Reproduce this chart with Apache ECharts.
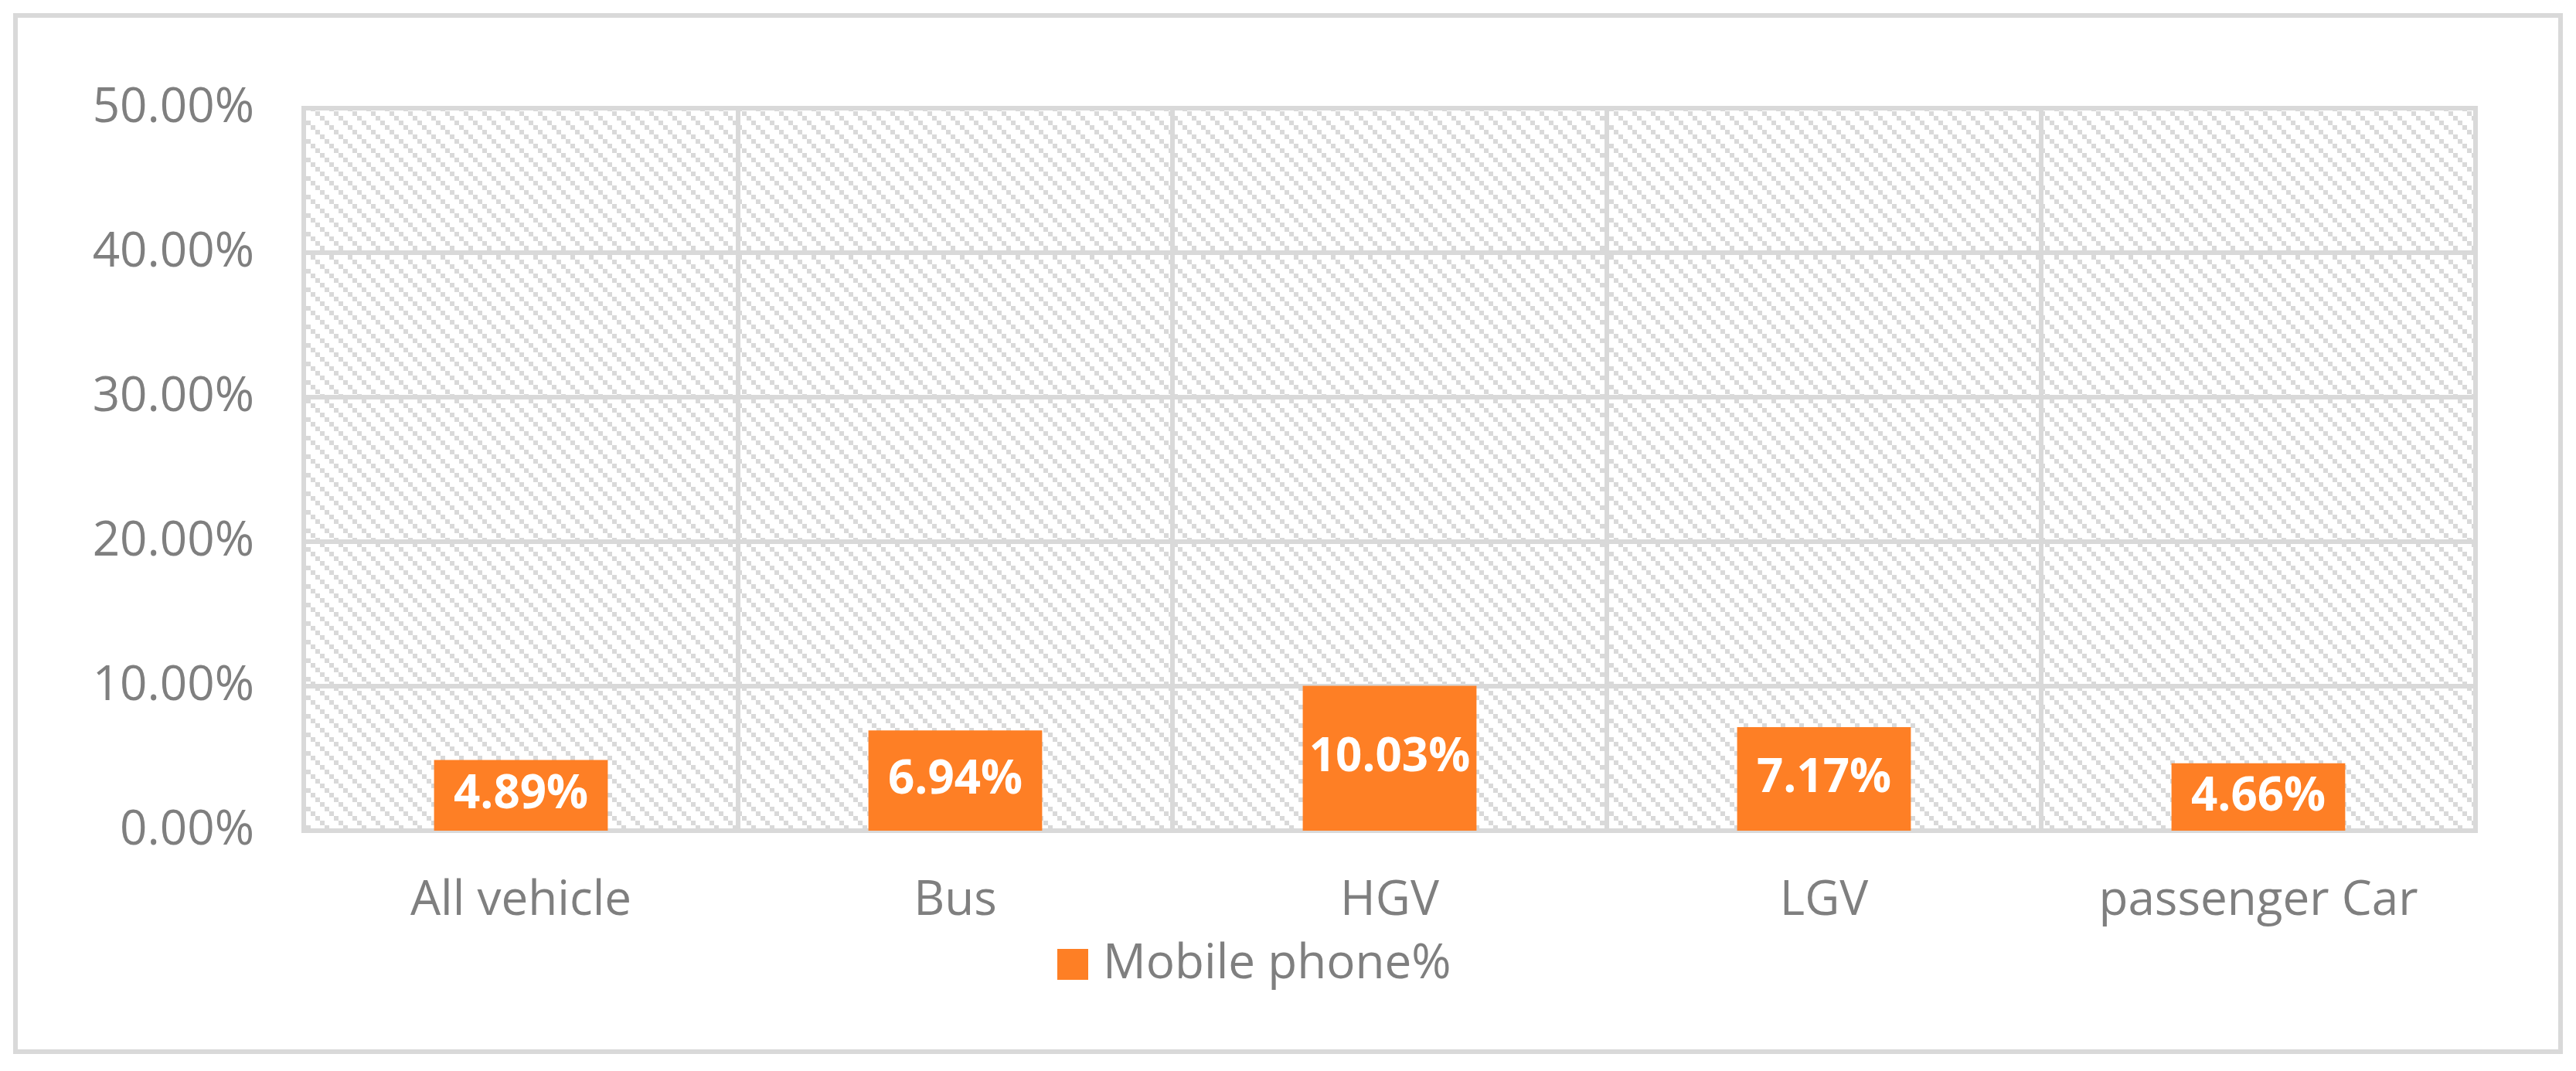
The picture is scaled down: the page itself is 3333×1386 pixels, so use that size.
<!DOCTYPE html>
<html>
<head>
<meta charset="utf-8">
<script src="https://cdn.jsdelivr.net/npm/echarts@6/dist/echarts.min.js"></script>
<style>
html,body{margin:0;padding:0;background:#fff;}
#chart{width:3333px;height:1386px;}
</style>
</head>
<body>
<div id="chart"></div>
<script>
const categories = ['All vehicle', 'Bus', 'HGV', 'LGV', 'passenger Car'];
const mobilePhonePct = [4.89, 6.94, 10.03, 7.17, 4.66];
const seriesName = 'Mobile phone%';
const yTicks = { min: 0, max: 50, interval: 10 };

const FONT = '"Open Sans", "Noto Sans", sans-serif';
const GRAY_LINE = '#d9d9d9';
const GRAY_TEXT = '#7f7f7f';
const ORANGE = '#FE7F25';

// diagonal hatch pattern tile
const tile = document.createElement('canvas');
tile.width = 24; tile.height = 24;
const tctx = tile.getContext('2d');
tctx.fillStyle = '#ffffff';
tctx.fillRect(0, 0, 24, 24);
tctx.fillStyle = GRAY_LINE;
for (let b = 0; b < 4; b++) {
  tctx.fillRect(b * 6, b * 6, 6, 6);
}

const chart = echarts.init(document.getElementById('chart'), null, { renderer: 'canvas' });
chart.setOption({
  backgroundColor: '#ffffff',
  animation: false,
  textStyle: { fontFamily: FONT },
  graphic: [{
    type: 'rect',
    shape: { x: 20, y: 20, width: 3293, height: 1341 },
    style: { fill: 'none', stroke: GRAY_LINE, lineWidth: 6 },
    z: -1
  }],
  grid: {
    left: 393, right: 130, top: 140, bottom: 311,
    show: true,
    backgroundColor: { image: tile, repeat: 'repeat' },
    borderColor: GRAY_LINE,
    borderWidth: 6
  },
  legend: {
    data: [seriesName],
    left: 1368, top: 1217,
    padding: 0,
    itemWidth: 40, itemHeight: 40,
    icon: 'rect',
    textStyle: { fontFamily: FONT, fontSize: 62, color: GRAY_TEXT, padding: [0, 0, 0, 14] }
  },
  xAxis: {
    type: 'category',
    data: categories,
    axisLine: { show: true, lineStyle: { color: GRAY_LINE, width: 6 } },
    axisTick: { show: false },
    splitLine: { show: true, lineStyle: { color: GRAY_LINE, width: 6 } },
    axisLabel: { fontFamily: FONT, fontSize: 62, color: GRAY_TEXT, margin: 60 }
  },
  yAxis: {
    type: 'value',
    min: yTicks.min, max: yTicks.max, interval: yTicks.interval,
    axisLine: { show: false },
    axisTick: { show: false },
    splitLine: { show: true, lineStyle: { color: GRAY_LINE, width: 6 } },
    axisLabel: {
      fontFamily: FONT, fontSize: 62, color: GRAY_TEXT, margin: 64,
      formatter: v => v.toFixed(2) + '%'
    }
  },
  series: [{
    name: seriesName,
    type: 'bar',
    data: mobilePhonePct,
    barCategoryGap: '60%',
    itemStyle: { color: ORANGE },
    label: {
      show: true,
      position: 'inside',
      color: '#ffffff',
      fontFamily: FONT,
      fontWeight: 'bold',
      fontSize: 60,
      formatter: p => p.value.toFixed(2) + '%'
    }
  }]
});
</script>
</body>
</html>
